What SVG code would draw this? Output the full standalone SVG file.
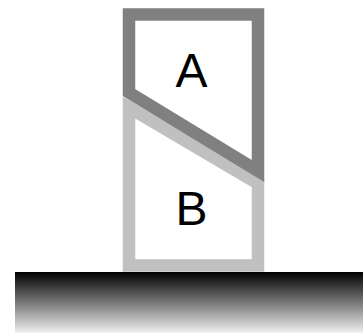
<svg xmlns="http://www.w3.org/2000/svg" width="363" height="333" viewBox="0 0 363 333">
<defs>
<linearGradient id="g" x1="0" y1="0" x2="0" y2="1">
<stop offset="0" stop-color="#000"/>
<stop offset="1" stop-color="#f0f0f0"/>
</linearGradient>
<style>
.lbl{font-family:"Liberation Sans",Arial,sans-serif;font-size:48px;fill:#000;text-anchor:middle}
.shape{fill:#fff;stroke-width:12.5;stroke-linejoin:miter;stroke-miterlimit:10}
</style>
</defs>
<rect width="363" height="333" fill="#fff"/>
<g id="B">
<polygon class="shape" stroke="#c0c0c0" points="129,107.5 258,183.5 258,265.5 129,265.5"/>
<text class="lbl" x="191.5" y="225">B</text>
</g>
<g id="A">
<polygon class="shape" stroke="#808080" points="129,14.5 258,14.5 258,171 129,92.5"/>
<text class="lbl" x="191.5" y="87">A</text>
</g>
<g id="ground">
<rect x="15" y="272" width="348" height="61" fill="url(#g)"/>
</g>
<g id="connectors"/>
</svg>
